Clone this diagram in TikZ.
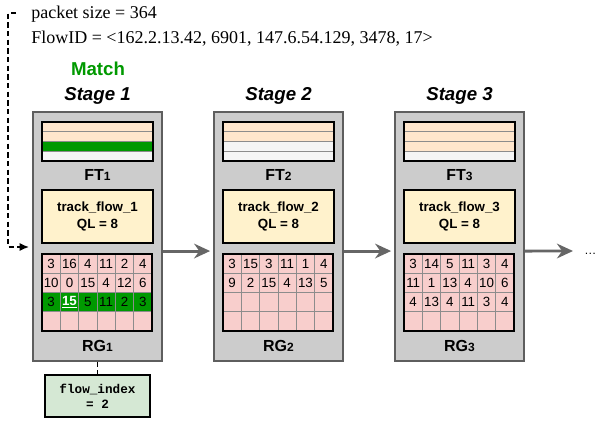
\documentclass[tikz,border=0pt]{standalone}
\usepackage{fontspec}
\setmainfont{Liberation Serif}
\setsansfont{Liberation Sans}
\setmonofont{Liberation Mono}
\usetikzlibrary{arrows.meta}
\usetikzlibrary{positioning}

\definecolor{stagegray}{HTML}{CCCCCC}
\definecolor{boxedge}{HTML}{5E5E5E}
\definecolor{ftpeach}{HTML}{FFE6CC}
\definecolor{ftwhite}{HTML}{F5F5F5}
\definecolor{matchgreen}{HTML}{009900}
\definecolor{trackfill}{HTML}{FFF2CC}
\definecolor{cellred}{HTML}{F8CECC}
\definecolor{gridgray}{HTML}{8C8C8C}
\definecolor{flowfill}{HTML}{D5E8D4}
\definecolor{arrowgray}{HTML}{666666}

\newcommand{\subnum}[1]{{\fontsize{9}{10}\selectfont #1}}
\newcommand{\hlnum}[1]{\textcolor{white}{\bfseries\underline{#1}}}

\tikzset{
  hdrtext/.style={anchor=base west, inner sep=0pt, font=\fontsize{13.5}{16}\selectfont},
  matchtext/.style={anchor=base, inner sep=0pt, text=matchgreen, font=\sffamily\bfseries\fontsize{14}{16}\selectfont},
  stagebox/.style={draw=boxedge, fill=stagegray, line width=0.8pt, minimum width=96.75pt, minimum height=186.75pt, inner sep=0pt},
  stagetitle/.style={anchor=base, inner sep=0pt, font=\sffamily\bfseries\itshape\fontsize{14}{16}\selectfont},
  tracknode/.style={draw, fill=trackfill, line width=0.9pt, minimum width=83.25pt, minimum height=39.75pt, align=center, inner sep=0pt, font=\sffamily\bfseries\fontsize{10}{13}\selectfont},
  tablelabel/.style={anchor=base, inner sep=0pt, font=\sffamily\bfseries\fontsize{12}{14}\selectfont},
  cellnum/.style={inner sep=0pt, font=\sffamily\fontsize{10}{11}\selectfont},
  gridline/.style={draw=gridgray, line width=0.6pt},
  tableframe/.style={draw=black, line width=1.4pt},
  flowarrow/.style={draw=arrowgray, line width=2.2pt, -{Stealth[length=12pt,width=11pt]}},
  pktline/.style={draw=black, line width=1.1pt, dash pattern=on 4pt off 2.5pt},
  flowidx/.style={draw, fill=flowfill, line width=0.8pt, minimum width=78.75pt, minimum height=31.5pt, align=center, inner sep=0pt, font=\ttfamily\bfseries\fontsize{9.5}{11}\selectfont},
  moretext/.style={anchor=base west, inner sep=0pt, font=\sffamily\fontsize{9}{11}\selectfont},
}

\begin{document}
\begin{tikzpicture}[x=0.75pt, y=-0.75pt]
  \useasboundingbox (0,0) rectangle (600,422);

  % packet header
  \node[hdrtext] (pktsize) at (31,18.5) {packet size = 364};
  \node[hdrtext] (flowid) at (31,43.5) {FlowID = <162.2.13.42, 6901, 147.6.54.129, 3478, 17>};
  \node[matchtext] (match) at (98,75) {Match};

  % stages
  \foreach \k/\ox in {1/33, 2/214, 3/395} {
    \node[stagebox] (s\k) at (\ox+64.5,236.5) {};
    \node[stagetitle] (t\k) at (\ox+64.5,100) {Stage \k};
    \node[tablelabel] (ftl\k) at (\ox+64.5,180) {FT\subnum{\k}};
    \node[tracknode] (tf\k) at (\ox+64.5,216.5) {track\_flow\_\k\\QL = 8};
    \node[tablelabel] (rgl\k) at (\ox+64.5,351) {RG\subnum{\k}};
  }

  % flow tables
  \foreach \ox/\rowcols in {33/{ftpeach,ftpeach,matchgreen,ftwhite}, 214/{ftpeach,ftpeach,ftwhite,ftwhite}, 395/{ftpeach,ftpeach,ftpeach,ftwhite}} {
    \foreach \c [count=\r from 0] in \rowcols
      \fill[fill=\c] (\ox+9,122+\r*9.75) rectangle ++(111,9.75);
    \foreach \r in {1,2,3}
      \draw[gridline] (\ox+9,122+\r*9.75) -- ++(111,0);
    \draw[tableframe] (\ox+9,122) rectangle ++(111,39);
  }

  % register grids
  \foreach \ox in {33,214,395}
    \fill[cellred] (\ox+9,254) rectangle ++(110,77);
  \fill[matchgreen] (42,254+2*19.25) rectangle ++(110,19.25);
  \foreach \ox in {33,214,395} {
    \foreach \c in {1,...,5}
      \draw[gridline] (\ox+9+\c*18.333,254) -- ++(0,77);
    \foreach \r in {1,2,3}
      \draw[gridline] (\ox+9,254+\r*19.25) -- ++(110,0);
    \draw[tableframe] (\ox+9,254) rectangle ++(110,77);
  }
  \foreach \k/\ox/\r/\vals in {1/33/0/{3,16,4,11,2,4}, 1/33/1/{10,0,15,4,12,6}, 1/33/2/{3,\hlnum{15},5,11,2,3},
      2/214/0/{3,15,3,11,1,4}, 2/214/1/{9,2,15,4,13,5},
      3/395/0/{3,14,5,11,3,4}, 3/395/1/{11,1,13,4,10,6}, 3/395/2/{4,13,4,11,3,4}}
    \foreach \v [count=\j from 0] in \vals
      \node[cellnum] (c\k-\r-\j) at (\ox+18.167+\j*18.333,263.625+\r*19.25) {\v};

  % pipeline arrows
  \draw[flowarrow, shorten >=2.5pt] ([yshift=-10.9pt]s1.east) -- ([yshift=-10.9pt]s2.west);
  \draw[flowarrow, shorten >=2.5pt] ([yshift=-10.9pt]s2.east) -- ([yshift=-10.9pt]s3.west);
  \coordinate (tip3) at (573,251);
  \draw[flowarrow] ([yshift=-10.9pt]s3.east) -- (tip3);
  \node[moretext] (more) at (584,254) {…};

  % packet enters stage 1
  \coordinate (pkstart) at (16,13);
  \coordinate (pkend) at (29,247);
  \draw[pktline, -{Latex[length=7pt,width=6pt]}] (pkstart) -- (8,13) |- (pkend);

  % matched index
  \node[flowidx] (fidx) at (97.5,396) {flow\_index\\= 2};
  \draw[pktline] (s1.south) -- (fidx.north);
\end{tikzpicture}
\end{document}
